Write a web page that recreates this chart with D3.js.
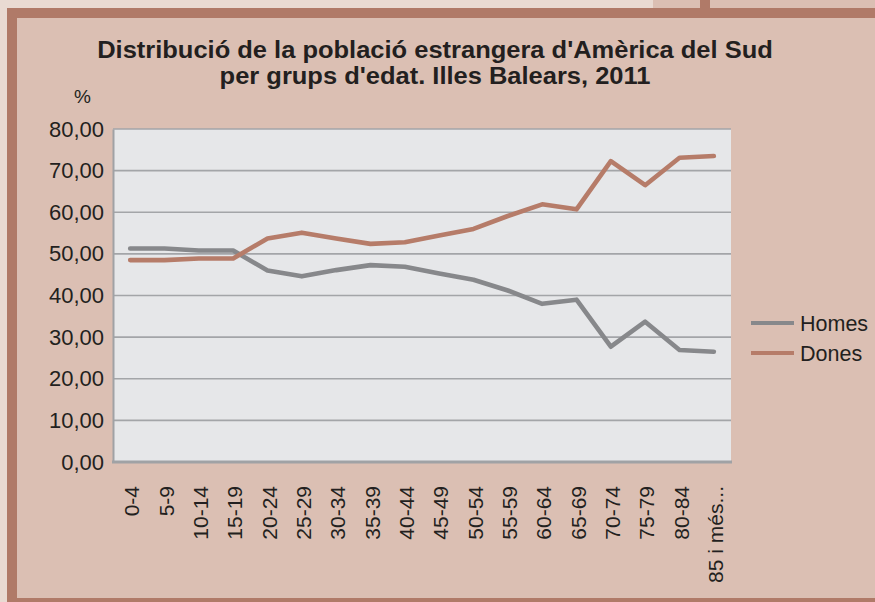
<!DOCTYPE html>
<html>
<head>
<meta charset="utf-8">
<script src="https://cdn.jsdelivr.net/npm/d3@7"></script>
<style>
  html, body { margin: 0; padding: 0; background: #e9dad2; }
  svg { display: block; }
  text { font-family: "Liberation Sans", Arial, Helvetica, sans-serif; fill: #231f20; }
</style>
</head>
<body>
<svg id="chart" width="875" height="602"></svg>
<script>
const categories = ["0-4","5-9","10-14","15-19","20-24","25-29","30-34","35-39","40-44","45-49","50-54","55-59","60-64","65-69","70-74","75-79","80-84","85 i més..."];
const homes = [51.3,51.3,50.8,50.8,46.0,44.6,46.1,47.3,46.9,45.3,43.8,41.2,38.0,39.0,27.7,33.7,26.9,26.5];
const dones = [48.5,48.5,48.9,48.9,53.7,55.1,53.7,52.4,52.8,54.4,56.0,59.1,61.9,60.7,72.3,66.5,73.1,73.5];
const yTicks = [0,10,20,30,40,50,60,70,80];
const seriesNames = ["Homes","Dones"];
const titleLines = ["Distribució de la població estrangera d'Amèrica del Sud","per grups d'edat. Illes Balears, 2011"];
const yUnit = "%";

(function () {
const colors = { Homes: "#87888b", Dones: "#b67c69" };
const svg = d3.select("#chart");

// background frame
svg.append("rect").attr("x",0).attr("y",0).attr("width",875).attr("height",602).attr("fill","#e9dad2");
svg.append("rect").attr("x",653).attr("y",0).attr("width",222).attr("height",10).attr("fill","#dbbfb3");
svg.append("rect").attr("x",700).attr("y",0).attr("width",10).attr("height",10).attr("fill","#b07a68");
svg.append("rect").attr("x",7).attr("y",8).attr("width",880).attr("height",600).attr("fill","#b07a68");
svg.append("rect").attr("x",17).attr("y",18).attr("width",870).attr("height",580).attr("fill","#dbbfb3");

const pLeft = 113, pRight = 731, pTop = 129, pBottom = 462;

const x = d3.scalePoint().domain(categories).range([pLeft, pRight]).padding(0.5);
const y = d3.scaleLinear().domain([0, 80]).range([pBottom, pTop]);
const locale = d3.formatLocale({decimal: ",", thousands: ".", grouping: [3], currency: ["", "€"]});
const fmt = locale.format(".2f");

// plot background
svg.append("rect").attr("x",pLeft).attr("y",pTop).attr("width",pRight-pLeft).attr("height",pBottom-pTop).attr("fill","#e6e7e9");

// gridlines
svg.append("g").selectAll("line").data(yTicks.filter(d => d > 0)).join("line")
  .attr("x1", pLeft).attr("x2", pRight).attr("y1", d => y(d)).attr("y2", d => y(d))
  .attr("stroke", "#a3a5a8").attr("stroke-width", 1.6);

// y axis
const yAxis = svg.append("g").attr("transform", `translate(${pLeft},0)`)
  .call(d3.axisLeft(y).tickValues(yTicks).tickFormat(fmt).tickSize(0).tickPadding(9));
yAxis.select(".domain").attr("stroke", "#a0a2a5").attr("stroke-width", 2);
yAxis.selectAll("text").attr("font-size", 22).attr("fill", "#231f20")
  .attr("font-family", "'Liberation Sans', Arial, sans-serif");

// x axis
const xAxis = svg.append("g").attr("transform", `translate(0,${pBottom})`)
  .call(d3.axisBottom(x).tickSize(0).tickPadding(0));
xAxis.select(".domain").attr("stroke", "#a0a2a5").attr("stroke-width", 3).attr("d", `M${pLeft-1},0H${pRight+1}`);
xAxis.selectAll("text")
  .attr("font-size", 21).attr("fill", "#231f20")
  .attr("font-family", "'Liberation Sans', Arial, sans-serif")
  .attr("text-anchor", "end")
  .attr("transform", `translate(1,24) rotate(-90)`)
  .attr("x", 0).attr("y", 0).attr("dy", "0.36em");

// lines
const series = [{name: "Homes", values: homes}, {name: "Dones", values: dones}];
const line = d3.line().x((d, i) => x(categories[i])).y(d => y(d));
svg.append("g").selectAll("path").data(series).join("path")
  .attr("d", d => line(d.values))
  .attr("fill", "none").attr("stroke", d => colors[d.name])
  .attr("stroke-width", 4.6).attr("stroke-linejoin", "round").attr("stroke-linecap", "round");

// title (slightly widened to match the reference face)
const tg = svg.append("g");
const tt = tg.selectAll("text").data(titleLines).join("text")
  .attr("x", 0).attr("y", (d, i) => 58 + i * 26)
  .attr("text-anchor", "middle").attr("font-size", 23.5).attr("font-weight", "bold")
  .text(d => d);
const w0 = tt.node().getComputedTextLength();
const sx = 676 / w0;
tg.attr("transform", `translate(435,0) scale(${sx},1)`);

svg.append("text").attr("x", 74).attr("y", 103).attr("font-size", 19).text(yUnit);

// legend
const lg = svg.append("g").selectAll("g").data(seriesNames).join("g")
  .attr("transform", (d, i) => `translate(751,${323 + i * 30})`);
lg.append("line").attr("x1", 0).attr("x2", 43).attr("y1", 0).attr("y2", 0)
  .attr("stroke", d => colors[d]).attr("stroke-width", 4);
lg.append("text").attr("x", 49).attr("y", 0).attr("dy", "0.35em").attr("font-size", 21.5).text(d => d);
})();
</script>
</body>
</html>
